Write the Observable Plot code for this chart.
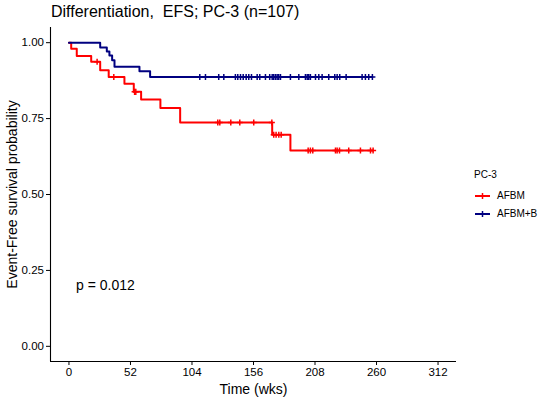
<!DOCTYPE html>
<html><head><meta charset="utf-8">
<script src="https://cdn.jsdelivr.net/npm/d3@7"></script>
<script src="https://cdn.jsdelivr.net/npm/@observablehq/plot@0.6"></script>
<style>
body{margin:0;background:#fff;font-family:"Liberation Sans",Arial,sans-serif;color:#000;}
#wrap{position:relative;width:550px;height:400px;overflow:hidden;}
#chart{position:absolute;left:0;top:0;}
#title{position:absolute;left:51px;top:4px;font-size:16px;line-height:16px;white-space:pre;}
#legend{position:absolute;left:474px;top:170px;font-size:10px;line-height:10px;}
#legend .head{height:14px;margin-bottom:3px;}
#legend .row{display:flex;align-items:center;height:18px;}
#legend svg{margin-right:6px;}
</style></head><body>
<div id="wrap"><div id="chart"></div><div id="title"></div><div id="legend"></div></div>
<script>
// ---- data ----
const titleText = "Differentiation,  EFS; PC-3 (n=107)";
const legendTitle = "PC-3";
const groups = ["AFBM", "AFBM+B"];
const colors = ["#FF0000", "#000080"];

const afbmTime = [0, 1.9, 6.6, 18.8, 26.4, 33.6, 46.9, 54.8, 61, 77.3, 94, 171.8, 187.2, 257.1];
const afbmSurv = [1, 0.980, 0.956, 0.937, 0.909, 0.887, 0.865, 0.838, 0.8125, 0.785, 0.737, 0.697, 0.645, 0.645];
const afbmCensor = [23.8, 37.9, 55.5, 56.5, 125.8, 127.5, 136.8, 144.4, 156.2, 171.5, 173.1, 175.1, 177.4, 179.4, 202.2, 204.1, 206.1, 225.3, 226.7, 228.7, 236.5, 246.4, 254.9, 257.1];

const afbmbTime = [0, 26.4, 32, 34.2, 36.5, 38.5, 59.6, 68.6, 256.5];
const afbmbSurv = [1, 0.984, 0.971, 0.958, 0.942, 0.921, 0.906, 0.887, 0.887];
const afbmbCensor = [110.6, 115.4, 126.6, 130.9, 140.7, 142.7, 145, 147.3, 149.8, 152, 154.3, 159.1, 161.3, 166.1, 169.7, 171.8, 173.1, 174.6, 176, 177.3, 178.8, 187.2, 194.3, 199.9, 201.4, 202.7, 204.1, 208.4, 211.2, 214, 219.6, 224.7, 226.7, 228.9, 234.3, 247.8, 250.6, 253.4, 256.5];

const xTicks = [0, 52, 104, 156, 208, 260, 312];
const yTicks = [0, 0.25, 0.5, 0.75, 1];
const xDomain = [-15.6, 327.6];
const yDomain = [-0.05, 1.05];
const xLabel = "Time (wks)";
const yLabel = "Event-Free survival probability";
const pText = "p = 0.012";
const pPos = {time: 6, surv: 0.2};

// ---- build tables ----
const series = [
  {group: groups[0], time: afbmTime, surv: afbmSurv, censor: afbmCensor},
  {group: groups[1], time: afbmbTime, surv: afbmbSurv, censor: afbmbCensor}
];
const stepRows = series.flatMap(s => s.time.map((t, i) => ({group: s.group, time: t, surv: s.surv[i]})));
const censorRows = series.flatMap(s => s.censor.map(t => {
  let k = 0;
  for (let i = 0; i < s.time.length; i++) if (s.time[i] <= t) k = i;
  return {group: s.group, time: t, surv: s.surv[k]};
}));

const font = '"Liberation Sans", Arial, sans-serif';
const chart = Plot.plot({
  width: 550, height: 400,
  marginLeft: 50, marginRight: 94, marginTop: 27, marginBottom: 39,
  style: {fontFamily: font, fontSize: "11.5px", color: "#000", background: "white", overflow: "visible"},
  x: {domain: xDomain, label: null},
  y: {domain: yDomain, label: null},
  color: {domain: groups, range: colors},
  marks: [
    Plot.axisX({ticks: xTicks, tickSize: 4, tickPadding: 2, label: null, fontSize: 11.5, fill: "#000", stroke: "#000"}),
    Plot.axisY({ticks: yTicks, tickSize: 4, tickPadding: 2.5, tickFormat: d3.format(".2f"), label: null, fontSize: 11.5, fill: "#000", stroke: "#000"}),
    Plot.ruleX([xDomain[0]], {stroke: "#000", strokeWidth: 1.1}),
    Plot.ruleY([yDomain[0]], {stroke: "#000", strokeWidth: 1.1}),
    Plot.line(stepRows, {x: "time", y: "surv", z: "group", stroke: "group", curve: "step-after", strokeWidth: 2}),
    Plot.dot(censorRows, {x: "time", y: "surv", stroke: "group", symbol: "plus", r: 2.1, strokeWidth: 1.5}),
    Plot.text([pText], {x: pPos.time, y: pPos.surv, text: d => d, textAnchor: "start", fontSize: 14, fill: "#000"}),
    Plot.text([xLabel], {frameAnchor: "bottom", text: d => d, textAnchor: "middle", lineAnchor: "middle", dy: 28, fontSize: 14, fill: "#000"}),
    Plot.text([yLabel], {frameAnchor: "left", text: d => d, textAnchor: "middle", lineAnchor: "middle", dx: -38, rotate: -90, fontSize: 14, fill: "#000"})
  ]
});
document.getElementById("chart").appendChild(chart);
document.getElementById("title").textContent = titleText;

// ---- legend ----
const lg = document.getElementById("legend");
const head = document.createElement("div");
head.className = "head";
head.textContent = legendTitle;
lg.appendChild(head);
groups.forEach((g, i) => {
  const row = document.createElement("div");
  row.className = "row";
  const ns = "http://www.w3.org/2000/svg";
  const svg = document.createElementNS(ns, "svg");
  svg.setAttribute("width", 17); svg.setAttribute("height", 10);
  const l = document.createElementNS(ns, "line");
  l.setAttribute("x1", 1); l.setAttribute("x2", 16); l.setAttribute("y1", 5); l.setAttribute("y2", 5);
  l.setAttribute("stroke", colors[i]); l.setAttribute("stroke-width", 2);
  const v = document.createElementNS(ns, "line");
  v.setAttribute("x1", 8.5); v.setAttribute("x2", 8.5); v.setAttribute("y1", 2); v.setAttribute("y2", 8);
  v.setAttribute("stroke", colors[i]); v.setAttribute("stroke-width", 1.5);
  svg.appendChild(l); svg.appendChild(v);
  row.appendChild(svg);
  const span = document.createElement("span");
  span.textContent = g;
  row.appendChild(span);
  lg.appendChild(row);
});
</script>
</body></html>
